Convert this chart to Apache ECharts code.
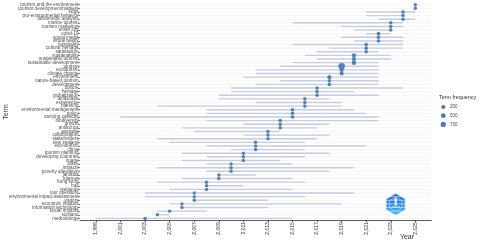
<!DOCTYPE html>
<html><head><meta charset="utf-8">
<script src="https://cdn.jsdelivr.net/npm/echarts@6/dist/echarts.min.js"></script>
<style>html,body{margin:0;padding:0;background:#fff}#c{width:480px;height:243px}</style>
</head><body><div id="c"></div>
<script>
const terms = ["tourism and the environment","tourism development/markets","sdgs","pro-environmental behavior","bibliometric analysis","marine tourism","tourism marketing","smart city","covid-19","social media","virtual reality","hospitality","cultural heritage","satisfaction","sustainability","sustainable tourism","sustainable development","tourism","ecotourism","climate change","environment","nature-based tourism","development","culture","heritage","globalization","landscape","experience","planning","environmental management","policy","carrying capacity","biodiversity","growth","antarctica","australia","collaboration","stakeholders","new zealand","eco-tourism","china","tourism planning","developing countries","image","place","impacts","poverty alleviation","jamaica","internet","hong kong","bali","wetlands","tour operators","environmental impact assessment","visitors","economic impacts","information technology","social impacts","scotland","methodology"];
const q1Years = [2025,2025,2021,2021,2022,2015,2019,2020,2021,2019,2020,2015,2018,2017,2016,2017,2015,2014,2012,2012,2011,2014,2012,2010,2010,2009,2009,2012,2004,2008,2008,2001,2008,2011,2006,2007,2011,2004,2005,2008,2010,2006,2008,2006,2008,2004,2008,2009,2006,2004,2008,2005,2003,2003,2007,2005,2006,2004,2004,1999];
const medianYears = [2025,2025,2024,2024,2024,2023,2023,2023,2022,2022,2022,2021,2021,2021,2020,2020,2020,2019,2019,2019,2018,2018,2018,2017,2017,2017,2016,2016,2016,2015,2015,2015,2014,2014,2014,2013,2013,2013,2012,2012,2012,2011,2011,2011,2010,2010,2010,2009,2009,2008,2008,2008,2007,2007,2007,2006,2006,2005,2004,2003];
const q3Years = [2025,2025,2025,2024,2025,2024,2024,2023,2023,2024,2024,2024,2024,2022,2023,2023,2022,2022,2022,2022,2022,2022,2022,2024,2020,2022,2018,2019,2019,2020,2021,2022,2022,2018,2017,2014,2018,2017,2016,2021,2016,2018,2016,2014,2015,2020,2018,2012,2015,2016,2011,2015,2020,2016,2013,2019,2013,2008,2005,2015];
const frequencies = [25,25,40,35,30,40,35,30,130,70,45,60,70,60,280,320,380,1450,300,200,250,60,70,40,50,40,35,40,50,40,50,45,45,25,25,35,25,30,30,35,30,25,25,20,20,30,20,15,15,15,12,12,15,15,12,15,12,12,10,40];
const yearTicks = [1999,2001,2003,2005,2007,2009,2011,2013,2015,2017,2019,2021,2023,2025];
const legendValues = [250,500,750];

const X_MIN = 1997.7, X_MAX = 2026.3;
const FONT = '"Liberation Sans", Arial, sans-serif';
const rowIdx = terms.map((_, i) => i);
function dotSize(f) { return Math.sqrt(11.5 + 0.022 * f); }

const chart = echarts.init(document.getElementById('c'));
const legendGraphics = [{
  type: 'text', x: 439, y: 97.5,
  style: { text: 'Term frequency', fontSize: 5.4, fill: '#333', fontFamily: FONT, verticalAlign: 'middle' }
}];
legendValues.forEach((v, k) => {
  const cy = 107 + k * 8.7;
  legendGraphics.push({ type: 'circle', shape: { cx: 443.3, cy: cy, r: dotSize(v) / 2 }, style: { fill: '#4c7bb4' } });
  legendGraphics.push({ type: 'text', x: 450, y: cy, style: { text: String(v), fontSize: 4.5, fill: '#4d4d4d', fontFamily: FONT, verticalAlign: 'middle' } });
});

const hexPts = (cx, cy, R) => [0,1,2,3,4,5].map(k => {
  const a = -Math.PI / 2 + k * Math.PI / 3;
  return [cx + R * Math.cos(a), cy + R * Math.sin(a)];
});
const logo = [
  { type: 'polygon', shape: { points: hexPts(395.7, 204.3, 10.6) },
    style: { fill: new echarts.graphic.LinearGradient(0, 0, 0, 1, [{offset: 0, color: '#1f5fd0'}, {offset: 1, color: '#3cbcf4'}]), stroke: '#8cc0f0', lineWidth: 0.8 } },
  { type: 'polygon', shape: { points: hexPts(395.7, 204.3, 7.2) },
    style: { fill: 'none', stroke: 'rgba(255,255,255,0.75)', lineWidth: 0.6 } },
  { type: 'rect', shape: { x: 394.7, y: 199.5, width: 2, height: 6 }, style: { fill: '#ffffff' } },
  { type: 'polygon', shape: { points: [[393.7, 199.8], [395.7, 197.6], [397.7, 199.8]] }, style: { fill: '#ffffff' } },
  { type: 'line', shape: { x1: 391.5, y1: 207, x2: 399.9, y2: 207 }, style: { stroke: '#ffffff', lineWidth: 0.8 } }
];

const option = {
  animation: false,
  grid: { left: 80, right: 48.7, top: 2.9, bottom: 22.8 },
  xAxis: {
    type: 'value', min: X_MIN, max: X_MAX,
    axisLine: { show: true, lineStyle: { color: '#333', width: 0.8 } },
    axisTick: { show: true, customValues: yearTicks, length: 2, lineStyle: { color: '#333', width: 0.8 } },
    axisLabel: { customValues: yearTicks, rotate: 90, fontSize: 5, color: '#333', margin: 2, fontFamily: FONT, showMinLabel: true, showMaxLabel: true },
    splitLine: { show: false }
  },
  yAxis: {
    type: 'category', data: terms, inverse: true, boundaryGap: true,
    axisLine: { show: false },
    axisTick: { show: true, interval: 0, alignWithLabel: true, length: 2, lineStyle: { color: '#333', width: 0.6 } },
    axisLabel: { interval: 0, fontSize: 4.6, color: '#4d4d4d', margin: 1.5, fontFamily: FONT },
    splitLine: { show: false }
  },
  series: [
    {
      type: 'custom', silent: true, z: 1,
      data: rowIdx.map(i => [i]),
      encode: { y: 0 },
      renderItem: (params, api) => {
        const i = api.value(0);
        const p1 = api.coord([X_MIN, i]), p2 = api.coord([X_MAX, i]);
        return { type: 'line', shape: { x1: p1[0], y1: p1[1], x2: p2[0], y2: p2[1] }, style: { stroke: '#ececec', lineWidth: 0.6 } };
      }
    },
    {
      type: 'custom', silent: true, z: 2,
      data: rowIdx.map(i => [q1Years[i], q3Years[i], i]),
      encode: { x: [0, 1], y: 2 },
      renderItem: (params, api) => {
        const i = api.value(2);
        const p1 = api.coord([api.value(0), i]), p2 = api.coord([api.value(1), i]);
        return { type: 'line', shape: { x1: p1[0], y1: p1[1], x2: p2[0], y2: p2[1] }, style: { stroke: '#c6cce4', lineWidth: 1.4 } };
      }
    },
    {
      type: 'scatter', z: 3,
      data: rowIdx.map(i => [medianYears[i], i, frequencies[i]]),
      symbolSize: v => dotSize(v[2]),
      itemStyle: { color: '#4c7bb4', opacity: 0.95 }
    }
  ],
  graphic: [
    { type: 'text', x: 6, y: 112, rotation: Math.PI / 2, style: { text: 'Term', fontSize: 7, fill: '#333', fontFamily: FONT, align: 'center', verticalAlign: 'middle' } },
    { type: 'text', x: 407, y: 237.5, style: { text: 'Year', fontSize: 7, fill: '#333', fontFamily: FONT, align: 'center', verticalAlign: 'middle' } }
  ].concat(legendGraphics, logo)
};
chart.setOption(option);
</script>
</body></html>
